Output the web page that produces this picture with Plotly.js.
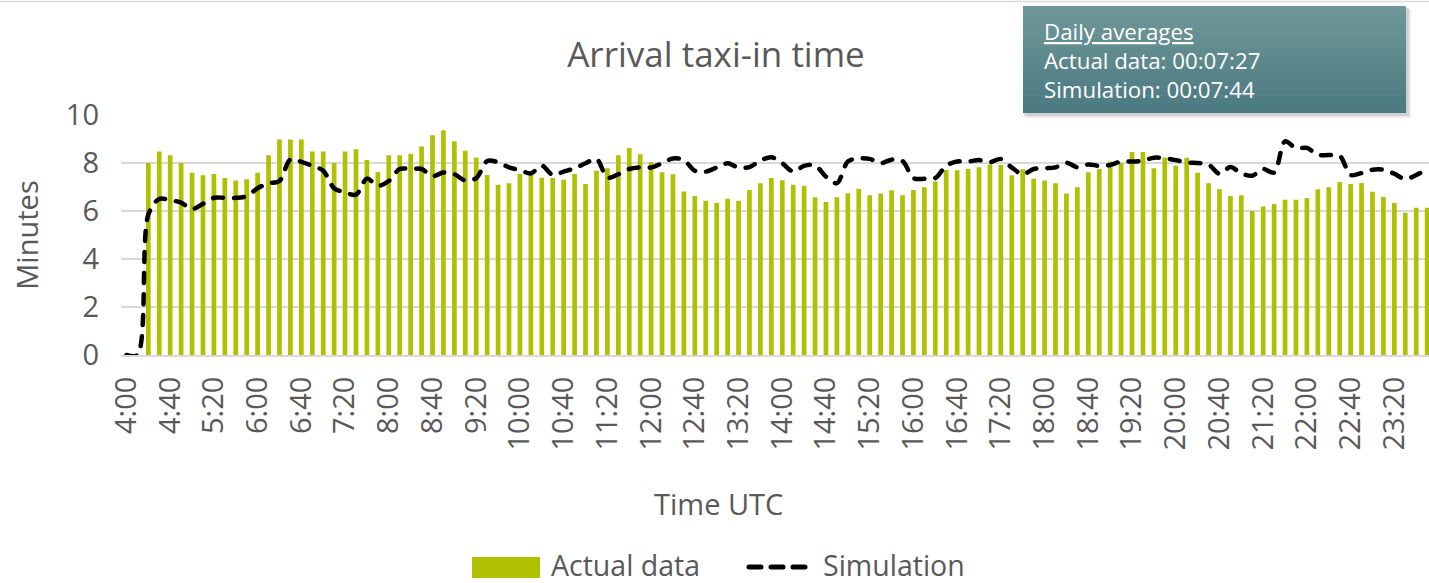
<!DOCTYPE html>
<html>
<head>
<meta charset="utf-8">
<script src="https://cdn.plot.ly/plotly-3.0.1.min.js"></script>
<style>
  html, body { margin: 0; padding: 0; background: #ffffff; overflow: hidden; }
  #chart { width: 1429px; height: 583px; }
  #chart .scatterlayer path.js-line { stroke-linecap: round; }
  #chart .shapelayer path { stroke-linecap: round; }
</style>
</head>
<body>
<div id="chart"></div>
<script>
// ---------- data ----------
const categories = [
  "4:00","4:10","4:20","4:30","4:40","4:50","5:00","5:10","5:20","5:30","5:40","5:50",
  "6:00","6:10","6:20","6:30","6:40","6:50","7:00","7:10","7:20","7:30","7:40","7:50",
  "8:00","8:10","8:20","8:30","8:40","8:50","9:00","9:10","9:20","9:30","9:40","9:50",
  "10:00","10:10","10:20","10:30","10:40","10:50","11:00","11:10","11:20","11:30","11:40","11:50",
  "12:00","12:10","12:20","12:30","12:40","12:50","13:00","13:10","13:20","13:30","13:40","13:50",
  "14:00","14:10","14:20","14:30","14:40","14:50","15:00","15:10","15:20","15:30","15:40","15:50",
  "16:00","16:10","16:20","16:30","16:40","16:50","17:00","17:10","17:20","17:30","17:40","17:50",
  "18:00","18:10","18:20","18:30","18:40","18:50","19:00","19:10","19:20","19:30","19:40","19:50",
  "20:00","20:10","20:20","20:30","20:40","20:50","21:00","21:10","21:20","21:30","21:40","21:50",
  "22:00","22:10","22:20","22:30","22:40","22:50","23:00","23:10","23:20","23:30","23:40","23:50"
];

const actualData = [
  0, 0, 8.00, 8.48, 8.32, 8.00, 7.59, 7.49, 7.54, 7.37, 7.27, 7.32,
  7.59, 8.32, 8.98, 8.98, 8.98, 8.48, 8.48, 8.00, 8.48, 8.57, 8.12, 7.63,
  8.32, 8.32, 8.39, 8.69, 9.16, 9.36, 8.91, 8.51, 8.23, 7.50, 7.09, 7.16,
  7.54, 7.54, 7.39, 7.37, 7.30, 7.54, 7.12, 7.68, 7.78, 8.32, 8.62, 8.36,
  8.04, 7.61, 7.53, 6.81, 6.62, 6.43, 6.33, 6.51, 6.43, 6.88, 7.16, 7.37,
  7.28, 7.09, 7.05, 6.57, 6.37, 6.57, 6.74, 6.92, 6.66, 6.73, 6.86, 6.66,
  6.87, 6.99, 7.23, 7.71, 7.70, 7.75, 7.82, 7.94, 7.92, 7.49, 7.74, 7.34,
  7.27, 7.16, 6.73, 6.99, 7.61, 7.75, 8.06, 8.01, 8.46, 8.46, 7.78, 8.23,
  7.90, 8.22, 7.59, 7.16, 6.91, 6.63, 6.66, 6.00, 6.19, 6.29, 6.47, 6.47,
  6.54, 6.91, 6.99, 7.21, 7.12, 7.17, 6.80, 6.58, 6.33, 5.93, 6.14, 6.14
];

const simulation = [
  0, 0, 5.85, 6.50, 6.45, 6.35, 6.08, 6.30, 6.55, 6.55, 6.55, 6.62,
  6.95, 7.15, 7.25, 8.15, 8.05, 7.88, 7.68, 6.95, 6.78, 6.68, 7.35, 7.05,
  7.25, 7.75, 7.75, 7.75, 7.45, 7.60, 7.53, 7.27, 7.37, 8.08, 8.03, 7.82,
  7.70, 7.57, 7.89, 7.50, 7.64, 7.78, 7.99, 8.17, 7.39, 7.53, 7.75, 7.82,
  7.81, 7.99, 8.19, 8.12, 7.68, 7.64, 7.81, 7.99, 7.81, 7.83, 8.10, 8.24,
  7.99, 7.64, 7.88, 7.90, 7.43, 7.16, 8.06, 8.19, 8.17, 7.99, 8.14, 8.08,
  7.37, 7.34, 7.37, 7.89, 8.06, 8.06, 8.12, 8.03, 8.17, 7.81, 7.53, 7.75,
  7.78, 7.82, 8.01, 7.82, 7.94, 7.88, 7.92, 8.06, 8.06, 8.10, 8.22, 8.20,
  8.12, 8.02, 8.00, 7.94, 7.55, 7.83, 7.57, 7.47, 7.75, 7.60, 8.90, 8.62,
  8.63, 8.34, 8.33, 8.30, 7.50, 7.58, 7.72, 7.72, 7.55, 7.33, 7.50, 7.74
];

const tickValues = ["4:00","4:40","5:20","6:00","6:40","7:20","8:00","8:40","9:20","10:00",
  "10:40","11:20","12:00","12:40","13:20","14:00","14:40","15:20","16:00","16:40",
  "17:20","18:00","18:40","19:20","20:00","20:40","21:20","22:00","22:40","23:20"];
const tickLabels = tickValues.slice();

const seriesNames = ["Actual data", "Simulation"];
const chartTitle = "Arrival taxi-in time";
const xTitle = "Time UTC";
const yTitle = "Minutes";
const averagesLines = ["Daily averages", "Actual data: 00:07:27", "Simulation: 00:07:44"];

// ---------- layout helpers (pixel -> paper) ----------
const W = 1429, H = 583;
const M = { l: 121, r: 0, t: 115, b: 228 };
const PW = W - M.l - M.r, PH = H - M.t - M.b;
const px = x => (x - M.l) / PW;
const py = y => (H - M.b - y) / PH;

const FONT = "'Open Sans', 'Noto Sans', sans-serif";
const TXT = "#595959";
const GREEN = "#afc100";

const shapes = [];
// outer top border line
shapes.push({ type: "line", xref: "paper", yref: "paper", x0: px(0), x1: px(W), y0: py(1.5), y1: py(1.5),
  line: { color: "#d9d9d9", width: 1.5 }, layer: "below" });

// info box shadow
shapes.push({ type: "rect", xref: "paper", yref: "paper", x0: px(1026), x1: px(1411), y0: py(9), y1: py(118),
  fillcolor: "rgba(0,0,0,0.07)", line: { width: 0 }, layer: "above" });
shapes.push({ type: "rect", xref: "paper", yref: "paper", x0: px(1024), x1: px(1409), y0: py(8), y1: py(116),
  fillcolor: "rgba(0,0,0,0.12)", line: { width: 0 }, layer: "above" });
// info box gradient bands
const boxX0 = 1023, boxX1 = 1406, boxY0 = 6, boxY1 = 113;
const topC = [112, 152, 152], botC = [74, 121, 128];
const nb = 24;
for (let i = 0; i < nb; i++) {
  const t = (i + 0.5) / nb;
  const c = topC.map((v, k) => Math.round(v + (botC[k] - v) * t));
  const ya = boxY0 + (boxY1 - boxY0) * i / nb;
  const yb = boxY0 + (boxY1 - boxY0) * (i + 1) / nb + 0.6;
  shapes.push({ type: "rect", xref: "paper", yref: "paper", x0: px(boxX0), x1: px(boxX1),
    y0: py(Math.min(yb, boxY1)), y1: py(ya),
    fillcolor: `rgb(${c[0]},${c[1]},${c[2]})`, line: { width: 0 }, layer: "above" });
}

// custom legend symbols
shapes.push({ type: "rect", xref: "paper", yref: "paper", x0: px(472), x1: px(540), y0: py(578), y1: py(557),
  fillcolor: GREEN, line: { width: 0 }, layer: "above" });
shapes.push({ type: "line", xref: "paper", yref: "paper", x0: px(749), x1: px(808), y0: py(567), y1: py(567),
  line: { color: "#000000", width: 5, dash: "12px,10px" }, layer: "above" });

const annotations = [
  { xref: "paper", yref: "paper", x: px(1042), y: py(60.5), xanchor: "left", yanchor: "middle", align: "left",
    showarrow: false,
    text: `<span style="text-decoration:underline">${averagesLines[0]}</span><br>${averagesLines[1]}<br>${averagesLines[2]}`,
    font: { family: FONT, size: 22.3, color: "#ffffff" } },
  { xref: "paper", yref: "paper", x: px(549), y: py(565), xanchor: "left", yanchor: "middle", showarrow: false,
    text: seriesNames[0], font: { family: FONT, size: 28.5, color: TXT } },
  { xref: "paper", yref: "paper", x: px(821), y: py(565), xanchor: "left", yanchor: "middle", showarrow: false,
    text: seriesNames[1], font: { family: FONT, size: 28.5, color: TXT } },
  { xref: "paper", yref: "paper", x: px(718), y: py(503), xanchor: "center", yanchor: "middle", showarrow: false,
    text: xTitle, font: { family: FONT, size: 29, color: TXT } }
];

const traces = [
  { type: "bar", name: seriesNames[0], x: categories, y: actualData,
    marker: { color: GREEN, line: { width: 0 } }, showlegend: false, hoverinfo: "x+y" },
  { type: "scatter", mode: "lines", name: seriesNames[1], x: categories, y: simulation,
    line: { color: "#000000", width: 4.5, dash: "10px,11px", shape: "spline", smoothing: 0.9 },
    showlegend: false, cliponaxis: false, hoverinfo: "x+y" }
];

const layout = {
  width: W, height: H,
  margin: M,
  paper_bgcolor: "#ffffff", plot_bgcolor: "#ffffff",
  font: { family: FONT, color: TXT, size: 29 },
  showlegend: false,
  bargap: 0.57,
  title: { text: chartTitle, font: { family: FONT, size: 35, color: TXT },
    x: 716 / W, xref: "container", xanchor: "center", y: 1 - 55 / H, yref: "container", yanchor: "middle" },
  xaxis: {
    type: "category", categoryorder: "array", categoryarray: categories,
    range: [-0.5, -0.5 + PW / 10.93],
    tickmode: "array", tickvals: tickValues, ticktext: tickLabels,
    tickangle: -90, ticks: "", ticklabelstandoff: 8,
    tickfont: { family: FONT, size: 29, color: TXT },
    showgrid: false, showline: true, linecolor: "#d9d9d9", linewidth: 2,
    zeroline: false, automargin: false, fixedrange: true
  },
  yaxis: {
    range: [0, 10], tickmode: "array", tickvals: [0, 2, 4, 6, 8, 10], ticktext: ["0","2","4","6","8","10"],
    ticks: "", ticklabelstandoff: 21,
    tickfont: { family: FONT, size: 29, color: TXT },
    showgrid: true, gridcolor: "#d9d9d9", gridwidth: 1.5,
    zeroline: false, showline: false, automargin: false, fixedrange: true,
    title: { text: yTitle, font: { family: FONT, size: 29, color: TXT }, standoff: 18 }
  },
  shapes: shapes,
  annotations: annotations
};

Plotly.newPlot("chart", traces, layout, { displayModeBar: false, staticPlot: true });
</script>
</body>
</html>
